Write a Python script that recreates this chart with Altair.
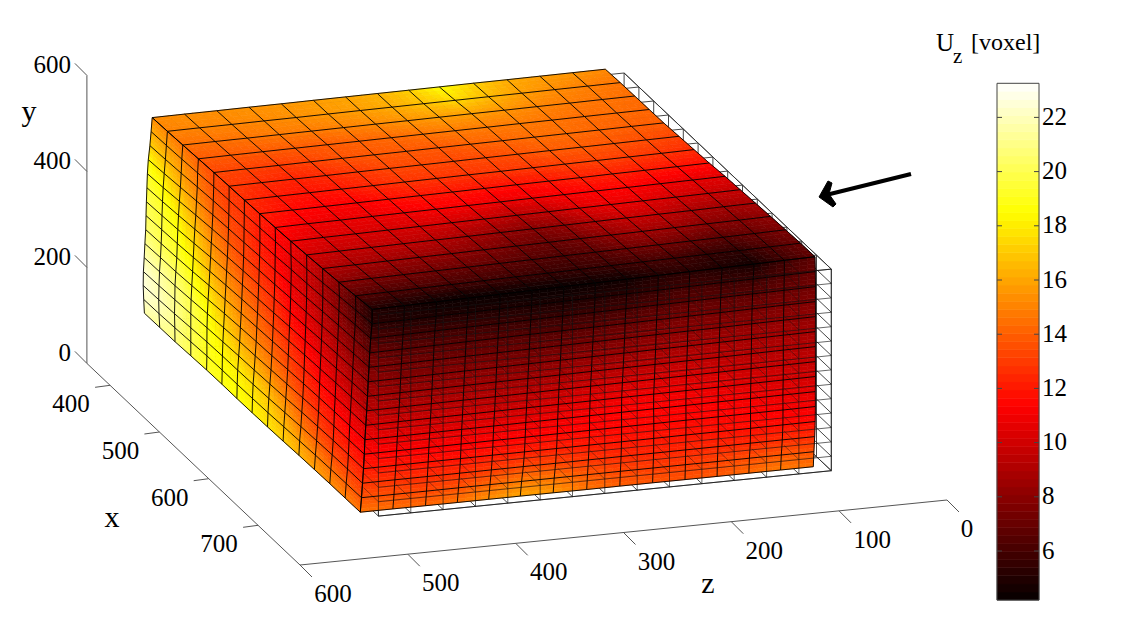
import altair as alt

alt.data_transformers.disable_max_rows()

# ---- values -----------------------------------------------------------------
X_TICKS = [400, 500, 600, 700]
Y_TICKS = [0, 200, 400, 600]
Z_TICKS = [0, 100, 200, 300, 400, 500, 600]
BAR_TICKS = [6, 8, 10, 12, 14, 16, 18, 20, 22]
X_RANGE = [353, 785]
Y_RANGE = [0, 600]
Z_RANGE = [0, 600]
BOX_X = [360, 780]
BOX_Y = [80, 500]
BOX_Z = [105, 525]
CELLS = 14
BAR_RANGE = [4.19, 23.26]

# Uz on the top face: row = back (x small) to front, column = z large to z small
TOP = [
    [15.3, 15.4, 15.4, 15.5, 15.6, 15.8, 16, 16.4, 17.2, 18.6, 17.2, 16.2, 15.8, 15.6, 15.2],
    [15, 15.1, 15.1, 15.2, 15.4, 15.6, 15.8, 16.2, 16.8, 17.5, 16.6, 15.8, 15.3, 14.9, 14.6],
    [14.5, 14.5, 14.6, 14.8, 14.8, 15, 15.2, 15.5, 15.8, 15.8, 15.5, 15.1, 14.8, 14.6, 14.4],
    [13.9, 13.9, 13.9, 13.9, 13.9, 14.1, 14.3, 14.6, 14.8, 14.8, 14.8, 14.6, 14.4, 14.4, 14.2],
    [13.3, 13.2, 13, 13.2, 13.6, 13.8, 13.8, 13.8, 14.1, 14.2, 14.4, 14.4, 14.2, 14, 14],
    [13, 12.6, 12.3, 12.5, 12.9, 13.3, 13.4, 13.3, 13.4, 13.6, 13.9, 13.9, 13.7, 13.5, 13.2],
    [12.6, 12, 11.8, 12, 12.4, 12.8, 12.8, 12.8, 12.9, 12.9, 13.1, 13.2, 13, 12.8, 12.5],
    [12.2, 11.6, 11.3, 11.3, 11.7, 11.9, 11.9, 11.8, 11.7, 11.9, 12.2, 12.2, 12, 11.8, 11.7],
    [11.6, 11, 10.8, 10.8, 11, 11.2, 11.1, 10.8, 10.9, 11.2, 11.4, 11.4, 11, 10.7, 10.5],
    [11, 10.4, 10.3, 10.2, 10.2, 10.1, 9.8, 9.3, 9.6, 10.4, 10.8, 10.6, 10.1, 9.8, 9.7],
    [10.2, 9.7, 9.6, 9.5, 9.3, 8.8, 8.3, 7.9, 8.3, 9.2, 9.8, 9.6, 9, 8.7, 8.9],
    [9.2, 8.8, 8.6, 8.4, 8.2, 7.8, 7.3, 7, 7.4, 8.2, 8.7, 8.5, 8, 7.8, 8.2],
    [8, 7.6, 7.4, 7.2, 7, 6.8, 6.5, 6.3, 6.6, 7.2, 7.4, 7.1, 6.6, 7, 7.6],
    [6.5, 6.2, 6.1, 6, 5.9, 5.8, 5.6, 5.6, 5.7, 6, 6, 5.5, 5.4, 6.3, 7],
    [5, 4.7, 4.4, 4.3, 4.3, 4.3, 4.3, 4.4, 4.5, 5, 5.2, 4.9, 4.6, 5.8, 6.8],
]
# front face: row = top to bottom, column = z large to z small
FRONT = [
    TOP[14],
    [5.2, 5, 4.9, 4.9, 4.9, 4.8, 4.8, 5, 5.2, 5.6, 6, 5.8, 5.7, 6.3, 7],
    [6.2, 5.9, 5.8, 5.8, 5.7, 5.6, 5.6, 5.8, 6, 6.4, 6.7, 6.6, 6.6, 7, 7.3],
    [7, 6.6, 6.6, 6.5, 6.5, 6.4, 6.4, 6.6, 6.9, 7.2, 7.4, 7.4, 7.4, 7.6, 7.8],
    [7.6, 7.2, 7.2, 7.2, 7.2, 7.1, 7.2, 7.4, 7.6, 7.9, 8.1, 8.1, 8.1, 8.2, 8.2],
    [8.2, 7.8, 7.8, 7.9, 7.9, 7.8, 8, 8.2, 8.4, 8.6, 8.8, 8.8, 8.7, 8.8, 8.8],
    [8.8, 8.4, 8.4, 8.5, 8.5, 8.6, 8.8, 9, 9.2, 9.4, 9.5, 9.4, 9.2, 9.2, 9.2],
    [9.4, 9.1, 9.1, 9.2, 9.2, 9.3, 9.6, 9.9, 10.1, 10.2, 10.2, 10, 9.8, 9.7, 9.6],
    [10.2, 9.9, 9.8, 9.9, 9.9, 10, 10.3, 10.6, 10.9, 11, 10.9, 10.7, 10.4, 10.2, 10],
    [10.9, 10.6, 10.5, 10.6, 10.7, 10.8, 11, 11.2, 11.4, 11.4, 11.3, 11.2, 11, 10.8, 10.6],
    [11.4, 11.3, 11.2, 11.2, 11.3, 11.4, 11.5, 11.5, 11.5, 11.5, 11.5, 11.5, 11.4, 11.2, 11],
    [12, 11.9, 11.8, 11.8, 12, 12.1, 12.2, 12, 11.9, 11.9, 11.9, 11.8, 11.7, 11.7, 11.6],
    [12.8, 12.7, 12.5, 12.6, 13, 13.3, 13.2, 12.8, 12.5, 12.3, 12.4, 12.4, 12.4, 12.6, 12.5],
    [13.6, 13.5, 13.3, 13.6, 14.2, 14.8, 14.6, 13.8, 13.3, 13, 13, 13.2, 13.5, 13.8, 13.6],
    [14.6, 14.4, 14.2, 14.6, 15.4, 16, 15.6, 14.6, 14, 13.7, 13.6, 13.8, 14.3, 14.8, 14.5],
]
# left face: row = top to bottom, column = back to front
LEFT = [
    [15.3, 15, 14.5, 13.9, 13.3, 13, 12.6, 12.2, 11.6, 11, 10.2, 9.2, 8, 6.5, 5],
    [16.2, 15.8, 15.3, 14.5, 13.5, 13, 12.7, 12, 11.4, 10.8, 10, 9, 7.6, 6.3, 5.2],
    [17.2, 16.6, 15.8, 14.8, 13.8, 13.2, 12.8, 12, 11.6, 10.6, 10, 9, 8, 6.8, 6.2],
    [18.5, 17.6, 16.5, 15.4, 14.2, 13.5, 13, 12.3, 11.8, 10.8, 10.2, 9.3, 8.4, 7.6, 7],
    [19.2, 18.4, 17.3, 16, 14.8, 13.9, 13.2, 12.6, 12, 11.1, 10.5, 9.7, 8.9, 8.1, 7.6],
    [19.6, 19, 18, 16.8, 15.4, 14.4, 13.6, 13, 12.4, 11.5, 10.9, 10.1, 9.4, 8.7, 8.2],
    [20, 19.4, 18.6, 17.4, 16, 15, 14.2, 13.5, 12.8, 12, 11.3, 10.6, 10, 9.3, 8.8],
    [20.3, 19.6, 19, 18, 16.6, 15.6, 14.7, 14, 13.3, 12.5, 11.8, 11.1, 10.5, 9.9, 9.4],
    [20.6, 20, 19.4, 18.6, 17.3, 16.2, 15.2, 14.5, 13.8, 13, 12.2, 11.6, 11, 10.6, 10.2],
    [21.2, 20.6, 20.2, 19.2, 18, 16.8, 15.8, 15, 14.4, 13.5, 12.7, 12, 11.6, 11.2, 10.9],
    [21.8, 21.4, 20.8, 19.8, 18.6, 17.4, 16.4, 15.8, 15, 14.2, 13.2, 12.5, 12, 11.7, 11.4],
    [22.4, 21.8, 21, 20, 18.9, 18, 17.2, 16.6, 15.9, 15, 14, 13.2, 12.6, 12.3, 12],
    [22.6, 22, 21.2, 20, 19, 18.4, 18, 17.5, 16.8, 15.8, 14.8, 14, 13.4, 13, 12.8],
    [22.2, 21.8, 21, 20, 19, 18.6, 18.4, 18, 17.4, 16.6, 15.8, 15, 14.5, 14, 13.6],
    [21.6, 21.2, 20.8, 20, 19.2, 18.8, 18.6, 18.3, 17.8, 17.2, 16.4, 15.8, 15.3, 14.9, 14.6],
]

# ---- drawing helpers ---------------------------------------------------------
def project(x, y, z):
    """Orthographic view of the MATLAB-style 3-D axes, in page pixels."""
    return (300 + 0.4933 * (x - 785) + 1.0783 * (600 - z),
            565 + 0.4667 * (x - 785) - 0.1083 * (600 - z) - 0.48 * y)

DISP = 1.15     # exaggeration of the displacement along z
YSHIFT = 12

def deformed(x, y, z, u):
    fx = (x - BOX_X[0]) / (BOX_X[1] - BOX_X[0])
    fy = (y - BOX_Y[0]) / (BOX_Y[1] - BOX_Y[0])
    fz = (BOX_Z[1] - z) / (BOX_Z[1] - BOX_Z[0])
    lift = YSHIFT + 8 * (1 - fx) * (1 - fy) - 6 * (1 - fx) * fy * (1 - fz)
    return project(x - 16 * fx * fy * fz, y + lift, z + DISP * u)

def frac(rng, k):
    return rng[0] + (rng[1] - rng[0]) * k / CELLS

def node_top(i, j):
    return frac(BOX_X, i), BOX_Y[1], frac(BOX_Z[::-1], j)

def node_front(i, j):
    return BOX_X[1], frac(BOX_Y[::-1], i), frac(BOX_Z[::-1], j)

def node_left(i, j):
    return frac(BOX_X, j), frac(BOX_Y[::-1], i), BOX_Z[1]

FACES = [(LEFT, node_left), (FRONT, node_front), (TOP, node_top)]
SUB = 4

def feature(geom, **props):
    return {"type": "Feature", "geometry": geom, "properties": props}

def poly(pts, **props):
    ring = [[round(a, 1), round(b, 1)] for a, b in pts]
    ring.append(ring[0])
    return feature({"type": "Polygon", "coordinates": [ring]}, **props)

def line(pts, **props):
    return feature({"type": "LineString",
                    "coordinates": [[round(a, 1), round(b, 1)] for a, b in pts]}, **props)

def blend(a, b, c, d, s, t):
    return (a * (1 - s) * (1 - t) + b * (1 - s) * t + c * s * (1 - t) + d * s * t)

cells, mesh = [], []
for values, node in FACES:
    screen = [[deformed(*node(i, j), values[i][j]) for j in range(CELLS + 1)]
              for i in range(CELLS + 1)]
    for i in range(CELLS):
        for j in range(CELLS):
            p00, p01, p10, p11 = screen[i][j], screen[i][j + 1], screen[i + 1][j], screen[i + 1][j + 1]
            v00, v01, v10, v11 = values[i][j], values[i][j + 1], values[i + 1][j], values[i + 1][j + 1]
            for a in range(SUB):
                for b in range(SUB):
                    corners = []
                    for s, t in [(a, b), (a, b + 1), (a + 1, b + 1), (a + 1, b)]:
                        s, t = s / SUB, t / SUB
                        corners.append((blend(p00[0], p01[0], p10[0], p11[0], s, t),
                                        blend(p00[1], p01[1], p10[1], p11[1], s, t)))
                    s, t = (a + .5) / SUB, (b + .5) / SUB
                    cells.append(poly(corners, v=round(blend(v00, v01, v10, v11, s, t), 2)))
    for i in range(CELLS + 1):
        mesh.append(line(screen[i]))
    for j in range(CELLS + 1):
        mesh.append(line([screen[i][j] for i in range(CELLS + 1)]))

# undeformed wire cube
xs = [frac(BOX_X, k) for k in range(CELLS + 1)]
ys = [frac(BOX_Y, k) for k in range(CELLS + 1)]
zs = [frac(BOX_Z, k) for k in range(CELLS + 1)]
wire_back, wire_front = [], []
for a in xs:
    for top in BOX_Y:
        wire_back.append(line([project(a, top, BOX_Z[0]), project(a, top, BOX_Z[1])]))
    for side in BOX_Z:
        wire_back.append(line([project(a, BOX_Y[0], side), project(a, BOX_Y[1], side)]))
for b in zs:
    for top in BOX_Y:
        wire_back.append(line([project(BOX_X[0], top, b), project(BOX_X[1], top, b)]))
for b in ys:
    wire_back.append(line([project(BOX_X[0], b, BOX_Z[0]), project(BOX_X[1], b, BOX_Z[0])]))
    wire_front.append(line([project(BOX_X[1], b, BOX_Z[0]), project(BOX_X[1], b, BOX_Z[1])]))
for b in zs:
    wire_front.append(line([project(BOX_X[1], BOX_Y[0], b), project(BOX_X[1], BOX_Y[1], b)]))
ticks_in = []
for b in ys[1:]:
    for c in zs[1:]:
        ticks_in.append(line([project(BOX_X[1], b, c), project(frac(BOX_X, 13), b, c)]))

# axes
axes = [
    line([project(X_RANGE[0], 0, 600), project(X_RANGE[0], 600, 600)]),
    line([project(X_RANGE[0], 0, 600), project(X_RANGE[1], 0, 600), project(X_RANGE[1], 0, 0)]),
]
texts = []
for t in Y_TICKS:
    bx, by = project(X_RANGE[0], t, 600)
    axes.append(line([(bx, by), (bx - 12, by - 12)]))
    texts.append(dict(lon=71, lat=by - 10.5, t=str(t), a="right"))
for t in X_TICKS:
    bx, by = project(t, 0, 600)
    axes.append(line([(bx, by), (bx - 15, by + 2)]))
    texts.append(dict(lon=bx - 39, lat=by + 19, t=str(t), a="center"))
for t in Z_TICKS:
    bx, by = project(X_RANGE[1], 0, t)
    axes.append(line([(bx, by), (bx + 12, by + 12)]))
    texts.append(dict(lon=bx + (20 if t == 0 else 33), lat=by + 29, t=str(t), a="center"))

# colour bar
def bar_y(v):
    return 551 - 27.1 * (v - 6)

N_BAR = 64
bar_cells = []
for k in range(N_BAR):
    lo = BAR_RANGE[0] + (BAR_RANGE[1] - BAR_RANGE[0]) * k / N_BAR
    hi = BAR_RANGE[0] + (BAR_RANGE[1] - BAR_RANGE[0]) * (k + 1) / N_BAR
    bar_cells.append(poly([(997, bar_y(lo)), (1039, bar_y(lo)), (1039, bar_y(hi)), (997, bar_y(hi))],
                          v=round((lo + hi) / 2, 2)))
bar_lines = [line([(997, bar_y(BAR_RANGE[0])), (1039, bar_y(BAR_RANGE[0])),
                   (1039, bar_y(BAR_RANGE[1])), (997, bar_y(BAR_RANGE[1])), (997, bar_y(BAR_RANGE[0]))])]
bar_texts = []
for t in BAR_TICKS:
    bar_lines.append(line([(997, bar_y(t)), (1002, bar_y(t))]))
    bar_lines.append(line([(1034, bar_y(t)), (1039, bar_y(t))]))
    bar_texts.append(dict(lon=1042, lat=bar_y(t) - 0.5, t=str(t), a="left"))

arrow_shaft = [line([(911, 174), (826, 195)])]
arrow_head = [poly([(819, 197), (828, 181), (832, 183), (829, 194), (836, 204), (833, 207)], v=0)]

# ---- chart --------------------------------------------------------------------
PROJ = dict(type="identity", scale=1, translate=[-8, -8])
COLOR = alt.Scale(domain=[BAR_RANGE[0], 11.36, 18.52, BAR_RANGE[1]],
                  range=["#050000", "#ff0000", "#ffff00", "#ffffff"], interpolate="rgb")

def geo(features):
    return alt.InlineData(values={"type": "FeatureCollection", "features": features},
                          format=alt.DataFormat(property="features", type="json"))

def lines(features, color, width, opacity=1.0):
    return (alt.Chart(geo(features))
            .mark_geoshape(filled=False, stroke=color, strokeWidth=width, strokeOpacity=opacity,
                           strokeCap="butt", strokeJoin="miter")
            .project(**PROJ))

def filled(features):
    return (alt.Chart(geo(features))
            .mark_geoshape(strokeWidth=0.6)
            .encode(color=alt.Color("properties.v:Q", scale=COLOR, legend=None),
                    stroke=alt.Stroke("properties.v:Q", scale=COLOR, legend=None))
            .project(**PROJ))

def solid(features, color):
    return (alt.Chart(geo(features))
            .mark_geoshape(fill=color, stroke=color, strokeWidth=1)
            .project(**PROJ))

def labels(rows, size, align):
    return (alt.Chart(alt.Data(values=rows))
            .mark_text(font="Liberation Serif", fontSize=size, align=align, baseline="middle", color="#000000")
            .encode(longitude="lon:Q", latitude="lat:Q", text="t:N")
            .project(**PROJ))

names = [dict(lon=29, lat=112, t="y"), dict(lon=112, lat=518, t="x"), dict(lon=708, lat=584, t="z")]
title = [dict(lon=936, lat=43, t="U")]
sub = [dict(lon=953, lat=57, t="z")]
unit = [dict(lon=971, lat=43, t="[voxel]")]

chart = alt.layer(
    lines(wire_back, "#333333", 0.9),
    filled(cells),
    lines(mesh, "#000000", 1.0, 0.9),
    lines(wire_front, "#111111", 0.8, 0.8),
    lines(ticks_in, "#111111", 0.7, 0.6),
    lines(axes, "#555555", 1.0),
    filled(bar_cells),
    lines(bar_lines, "#444444", 1.0),
    lines(arrow_shaft, "#000000", 4.0),
    solid(arrow_head, "#000000"),
    labels([r for r in texts if r["a"] == "right"], 25, "right"),
    labels([r for r in texts if r["a"] == "center"], 25, "center"),
    labels(bar_texts, 25, "left"),
    labels(names, 30, "center"),
    labels(title, 25, "left"),
    labels(sub, 21, "left"),
    labels(unit, 24, "left"),
).properties(
    width=1116, height=620, padding=0, autosize=alt.AutoSizeParams(type="none"),
    background="white",
).configure_view(stroke=None)

chart.save("out.html", embed_options={"renderer": "svg", "actions": False})
